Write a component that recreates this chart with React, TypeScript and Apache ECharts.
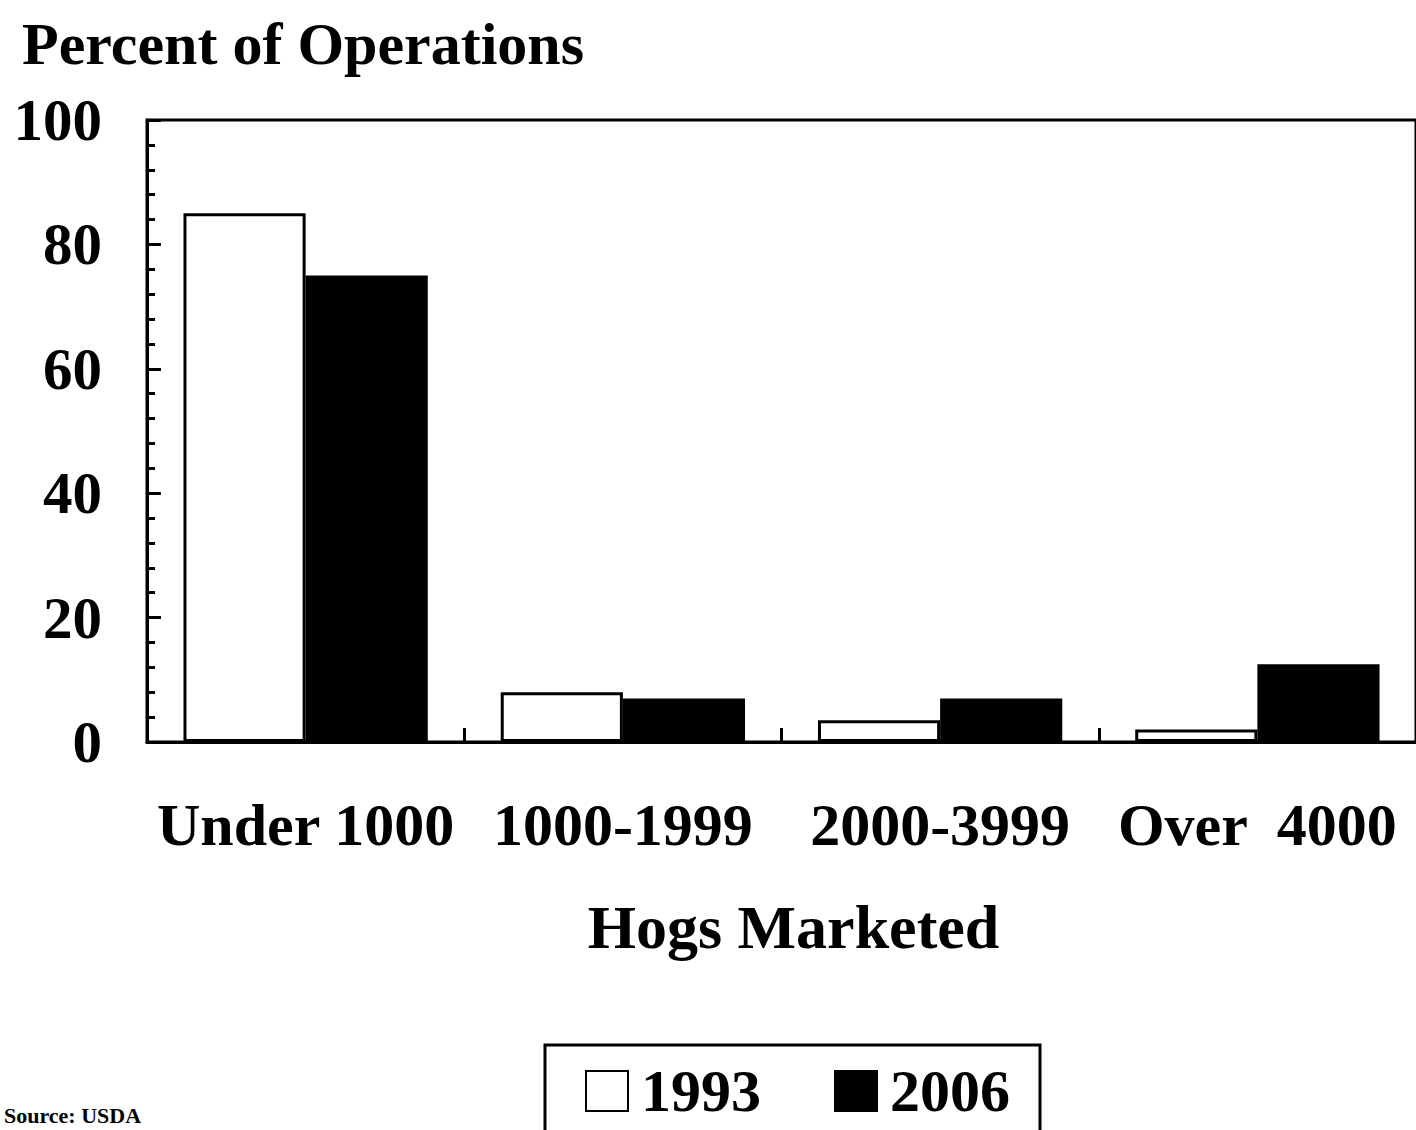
import React, { useEffect, useRef } from "react";
import * as echarts from "echarts";

const categories = ["Under 1000", "1000-1999", "2000-3999", "Over  4000"];
const values1993 = [85, 8, 3.5, 2];
const values2006 = [75, 7, 7, 12.5];
const yTicks = { min: 0, max: 100, interval: 20 };
const seriesNames = ["1993", "2006"];

const FONT = "'Liberation Serif', 'Times New Roman', serif";

export default function App() {
  const ref = useRef<HTMLDivElement>(null);
  useEffect(() => {
    if (!ref.current) return;
    const chart = echarts.init(ref.current, null, { renderer: "svg" });
    chart.setOption({
      animation: false,
      backgroundColor: "#ffffff",
      textStyle: { fontFamily: FONT, color: "#000" },
      grid: {
        left: 147,
        right: -9,
        top: 120,
        bottom: 1130 - 742,
        show: true,
        borderColor: "#000",
        borderWidth: 3,
        backgroundColor: "transparent",
      },
      graphic: [
        {
          type: "text",
          left: 22,
          top: 14,
          style: {
            text: "Percent of Operations",
            font: `bold 60px ${FONT}`,
            fill: "#000",
          },
        },
        {
          type: "text",
          left: 4,
          top: 1104,
          style: {
            text: "Source: USDA",
            font: `bold 22px ${FONT}`,
            fill: "#000",
          },
        },
      ],
      legend: {
        data: seriesNames,
        left: 545,
        top: 1045,
        orient: "horizontal",
        icon: "rect",
        itemWidth: 42,
        itemHeight: 40,
        itemGap: 73,
        padding: [16, 30, 60, 40],
        borderColor: "#000",
        borderWidth: 3,
        backgroundColor: "#fff",
        textStyle: {
          fontFamily: FONT,
          fontWeight: "bold",
          fontSize: 60,
          color: "#000",
          padding: [0, 0, 0, 8],
        },
      },
      xAxis: {
        type: "category",
        data: categories,
        name: "Hogs Marketed",
        nameLocation: "middle",
        nameGap: 154,
        nameTextStyle: {
          fontFamily: FONT,
          fontWeight: "bold",
          fontSize: 62,
          color: "#000",
          padding: [0, 0, 0, 24],
        },
        axisLine: { show: true, lineStyle: { color: "#000", width: 3 } },
        axisTick: {
          show: true,
          inside: true,
          length: 14,
          lineStyle: { color: "#000", width: 3 },
        },
        axisLabel: {
          fontFamily: FONT,
          fontWeight: "bold",
          fontSize: 60,
          color: "#000",
          margin: 53,
          interval: 0,
        },
        splitLine: { show: false },
      },
      yAxis: {
        type: "value",
        min: yTicks.min,
        max: yTicks.max,
        interval: yTicks.interval,
        axisLine: { show: true, lineStyle: { color: "#000", width: 3 } },
        axisTick: {
          show: true,
          inside: true,
          length: 14,
          lineStyle: { color: "#000", width: 3 },
        },
        minorTick: {
          show: true,
          splitNumber: 5,
          length: 8,
          lineStyle: { color: "#000", width: 3 },
        },
        axisLabel: {
          fontFamily: FONT,
          fontWeight: "bold",
          fontSize: 59,
          color: "#000",
          margin: 45,
        },
        splitLine: { show: false },
      },
      series: [
        {
          name: seriesNames[0],
          type: "bar",
          data: values1993,
          barGap: "0%",
          barCategoryGap: "23%",
          itemStyle: { color: "#fff", borderColor: "#000", borderWidth: 3 },
        },
        {
          name: seriesNames[1],
          type: "bar",
          data: values2006,
          barGap: "0%",
          barCategoryGap: "23%",
          itemStyle: { color: "#000", borderColor: "#000", borderWidth: 3 },
        },
      ],
    });
    return () => chart.dispose();
  }, []);
  return (
    <div
      ref={ref}
      style={{ position: "fixed", left: 0, top: 0, width: 1416, height: 1130, background: "#fff" }}
    />
  );
}
